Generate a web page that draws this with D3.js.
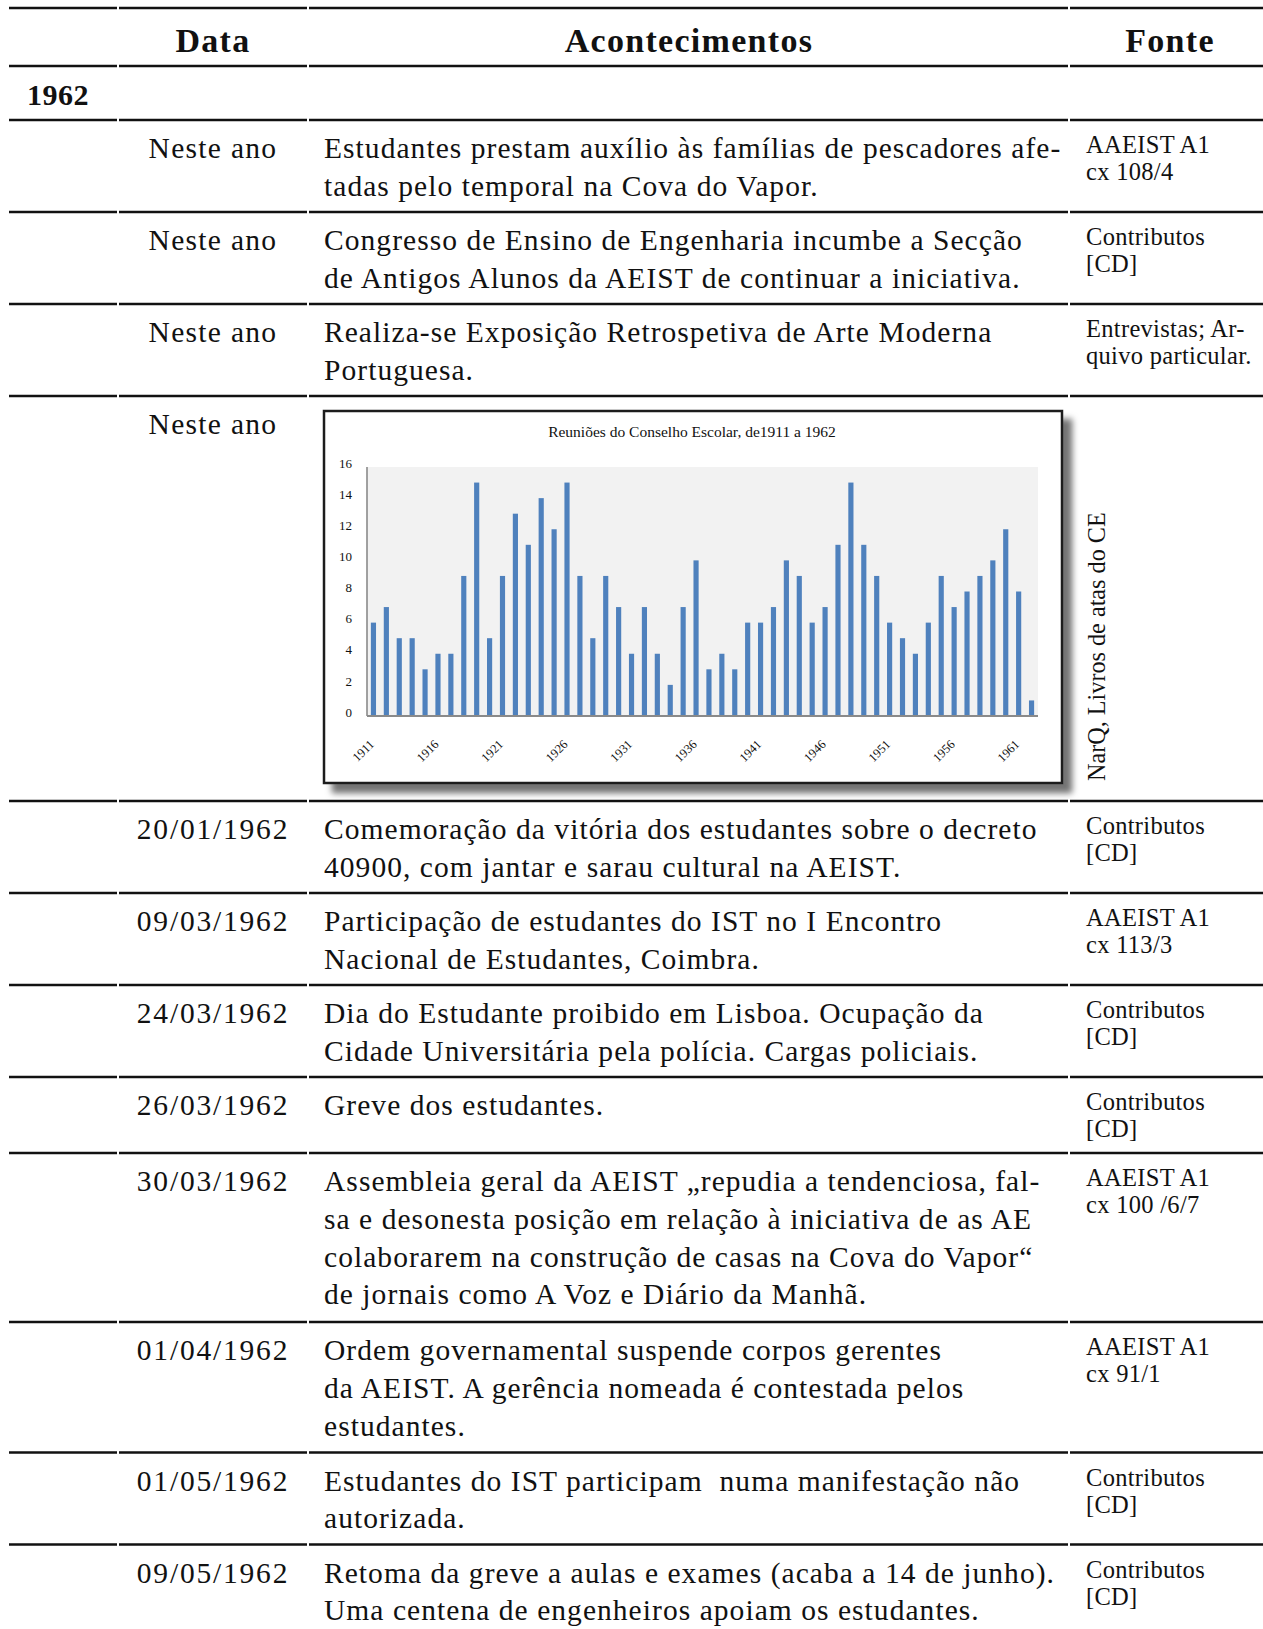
<!DOCTYPE html>
<html><head><meta charset="utf-8">
<script src="https://cdn.jsdelivr.net/npm/d3@7"></script>
<style>
html,body{margin:0;padding:0;background:#fff;overflow:hidden}
svg{display:block}
text{font-family:"Liberation Serif","Times New Roman",serif;fill:#111}
</style></head><body>
<svg id="page" width="1263" height="1629"></svg>
<script>
// ---------- data ----------
const headers = ["Data", "Acontecimentos", "Fonte"];
const yearHeading = "1962";
const dates = ["Neste ano","Neste ano","Neste ano","Neste ano","20/01/1962","09/03/1962","24/03/1962","26/03/1962","30/03/1962","01/04/1962","01/05/1962","09/05/1962"];
const events = [
  ["Estudantes prestam auxílio às famílias de pescadores afe-","tadas pelo temporal na Cova do Vapor."],
  ["Congresso de Ensino de Engenharia incumbe a Secção","de Antigos Alunos da AEIST de continuar a iniciativa."],
  ["Realiza-se Exposição Retrospetiva de Arte Moderna","Portuguesa."],
  null,
  ["Comemoração da vitória dos estudantes sobre o decreto","40900, com jantar e sarau cultural na AEIST."],
  ["Participação de estudantes do IST no I Encontro","Nacional de Estudantes, Coimbra."],
  ["Dia do Estudante proibido em Lisboa. Ocupação da","Cidade Universitária pela polícia. Cargas policiais."],
  ["Greve dos estudantes."],
  ["Assembleia geral da AEIST „repudia a tendenciosa, fal-","sa e desonesta posição em relação à iniciativa de as AE","colaborarem na construção de casas na Cova do Vapor“","de jornais como A Voz e Diário da Manhã."],
  ["Ordem governamental suspende corpos gerentes","da AEIST. A gerência nomeada é contestada pelos","estudantes."],
  ["Estudantes do IST participam  numa manifestação não","autorizada."],
  ["Retoma da greve a aulas e exames (acaba a 14 de junho).","Uma centena de engenheiros apoiam os estudantes."]
];
const sources = [
  ["AAEIST A1","cx 108/4"],
  ["Contributos","[CD]"],
  ["Entrevistas; Ar-","quivo particular."],
  null,
  ["Contributos","[CD]"],
  ["AAEIST A1","cx 113/3"],
  ["Contributos","[CD]"],
  ["Contributos","[CD]"],
  ["AAEIST A1","cx 100 /6/7"],
  ["AAEIST A1","cx 91/1"],
  ["Contributos","[CD]"],
  ["Contributos","[CD]"]
];
const chartRow = 3;
const chartTitle = "Reuniões do Conselho Escolar, de1911 a 1962";
const chartSource = "NarQ, Livros de atas do CE";
const years = [1911,1912,1913,1914,1915,1916,1917,1918,1919,1920,1921,1922,1923,1924,1925,1926,1927,1928,1929,1930,1931,1932,1933,1934,1935,1936,1937,1938,1939,1940,1941,1942,1943,1944,1945,1946,1947,1948,1949,1950,1951,1952,1953,1954,1955,1956,1957,1958,1959,1960,1961,1962];
const meetings = [6,7,5,5,3,4,4,9,15,5,9,13,11,14,12,15,9,5,9,7,4,7,4,2,7,10,3,4,3,6,6,7,10,9,6,7,11,15,11,9,6,5,4,6,9,7,8,9,10,12,8,1];
const yTicks = [0,2,4,6,8,10,12,14,16];
const xTickYears = [1911,1916,1921,1926,1931,1936,1941,1946,1951,1956,1961];

// ---------- layout ----------
const svg = d3.select("#page");
const segs = [[9,117],[119,307],[309,1068],[1070,1263]];
const dateCX = 213, eventX = 324, srcX = 1086;
const lineH = 37.8, srcLineH = 27;
const bodyStyle = t => t.attr("font-size", 29.5).attr("letter-spacing", "1.05px");

const defs = svg.append("defs");
const f = defs.append("filter").attr("id","sh").attr("x","-5%").attr("y","-5%").attr("width","115%").attr("height","120%");
f.append("feDropShadow").attr("dx",9).attr("dy",9).attr("stdDeviation",3).attr("flood-color","#000").attr("flood-opacity",0.55);

let y = 8;
const rules = [y];
y += 58; rules.push(y);
y += 54; rules.push(y);
const rowTops = [];
dates.forEach((d, i) => {
  rowTops.push(y);
  let h;
  if (i === chartRow) h = 405;
  else h = Math.max(15 + 38.5 * events[i].length, 22 + srcLineH * sources[i].length);
  y += h;
  rules.push(y);
});

// rules
rules.forEach(ry => {
  segs.forEach(s => {
    svg.append("line").attr("x1", s[0]).attr("x2", s[1]).attr("y1", ry).attr("y2", ry)
      .attr("stroke", "#111").attr("stroke-width", 2.6);
  });
});

// header
const hx = [213, 689, 1170];
svg.selectAll("text.h").data(headers).join("text").attr("class","h")
  .attr("x", (d,i) => hx[i]).attr("y", 52).attr("text-anchor","middle")
  .attr("font-size", 34).attr("font-weight","bold").attr("letter-spacing","1.3px").text(d => d);

svg.append("text").attr("x", 27).attr("y", 105).attr("font-size", 30).attr("font-weight","bold").attr("letter-spacing","0.5px").text(yearHeading);

// rows
dates.forEach((d, i) => {
  const top = rowTops[i];
  svg.append("text").attr("x", dateCX).attr("y", top + 38).attr("text-anchor","middle")
    .attr("font-size", 29.5).attr("letter-spacing", d.length > 9 ? "1.8px" : "1.3px").text(d);
  if (i === chartRow) return;
  events[i].forEach((ln, k) => {
    svg.append("text").attr("x", eventX).attr("y", top + 38 + k * lineH).call(bodyStyle).attr("xml:space","preserve").style("white-space","pre").text(ln);
  });
  sources[i].forEach((ln, k) => {
    svg.append("text").attr("x", srcX).attr("y", top + 33 + k * srcLineH).attr("font-size", 24.5).attr("letter-spacing","0.3px").text(ln);
  });
});

// ---------- embedded chart ----------
const ct = rowTops[chartRow];
const box = {x: 324, y: ct + 15, w: 738, h: 372};
const g = svg.append("g");
g.append("rect").attr("x", box.x).attr("y", box.y).attr("width", box.w).attr("height", box.h)
  .attr("fill", "#fff").attr("stroke", "#1a1a1a").attr("stroke-width", 2.5).attr("filter","url(#sh)");

const plot = {l: 367, r: 1038, t: ct + 71, b: ct + 320};
const x = d3.scaleBand().domain(years).range([plot.l, plot.r]).paddingInner(0.6).paddingOuter(0.3);
const yS = d3.scaleLinear().domain([0, 16]).range([plot.b, plot.t]);

g.append("rect").attr("x", plot.l).attr("y", yS(16)).attr("width", plot.r - plot.l).attr("height", yS(0) - yS(16)).attr("fill", "#f2f2f2");

g.selectAll("rect.bar").data(years).join("rect").attr("class","bar")
  .attr("x", d => x(d)).attr("width", x.bandwidth())
  .attr("y", (d,i) => yS(meetings[i])).attr("height", (d,i) => yS(0) - yS(meetings[i]))
  .attr("fill", "#4f81bd");

// axes lines
g.append("line").attr("x1", plot.l).attr("x2", plot.l).attr("y1", yS(16)).attr("y2", yS(0)).attr("stroke","#8a8a8a").attr("stroke-width",1.6);
g.append("line").attr("x1", plot.l).attr("x2", plot.r).attr("y1", yS(0)).attr("y2", yS(0)).attr("stroke","#8a8a8a").attr("stroke-width",2);

// y axis labels
const ya = g.append("g").attr("transform", `translate(${plot.l - 15},-4)`)
  .call(d3.axisLeft(yS).tickValues(yTicks).tickSize(0).tickPadding(0));
ya.select(".domain").remove();
ya.selectAll("text").attr("font-size", 13).attr("font-family", '"Liberation Serif", serif').attr("fill", "#222");

// x labels
g.selectAll("text.xl").data(xTickYears).join("text").attr("class","xl")
  .attr("transform", d => `translate(${x(d) + x.bandwidth()/2 + 1.5},${yS(0) + 29}) rotate(-45)`)
  .attr("text-anchor","end").attr("font-size", 12.5).attr("fill","#222").text(d => d);

// title
g.append("text").attr("x", 692).attr("y", ct + 41).attr("text-anchor","middle").attr("font-size", 15.5).attr("fill","#222").text(chartTitle);

// rotated source
svg.append("text").attr("transform", `translate(1105,${ct + 385}) rotate(-90)`).attr("font-size", 24.2).text(chartSource);
</script>
</body></html>
